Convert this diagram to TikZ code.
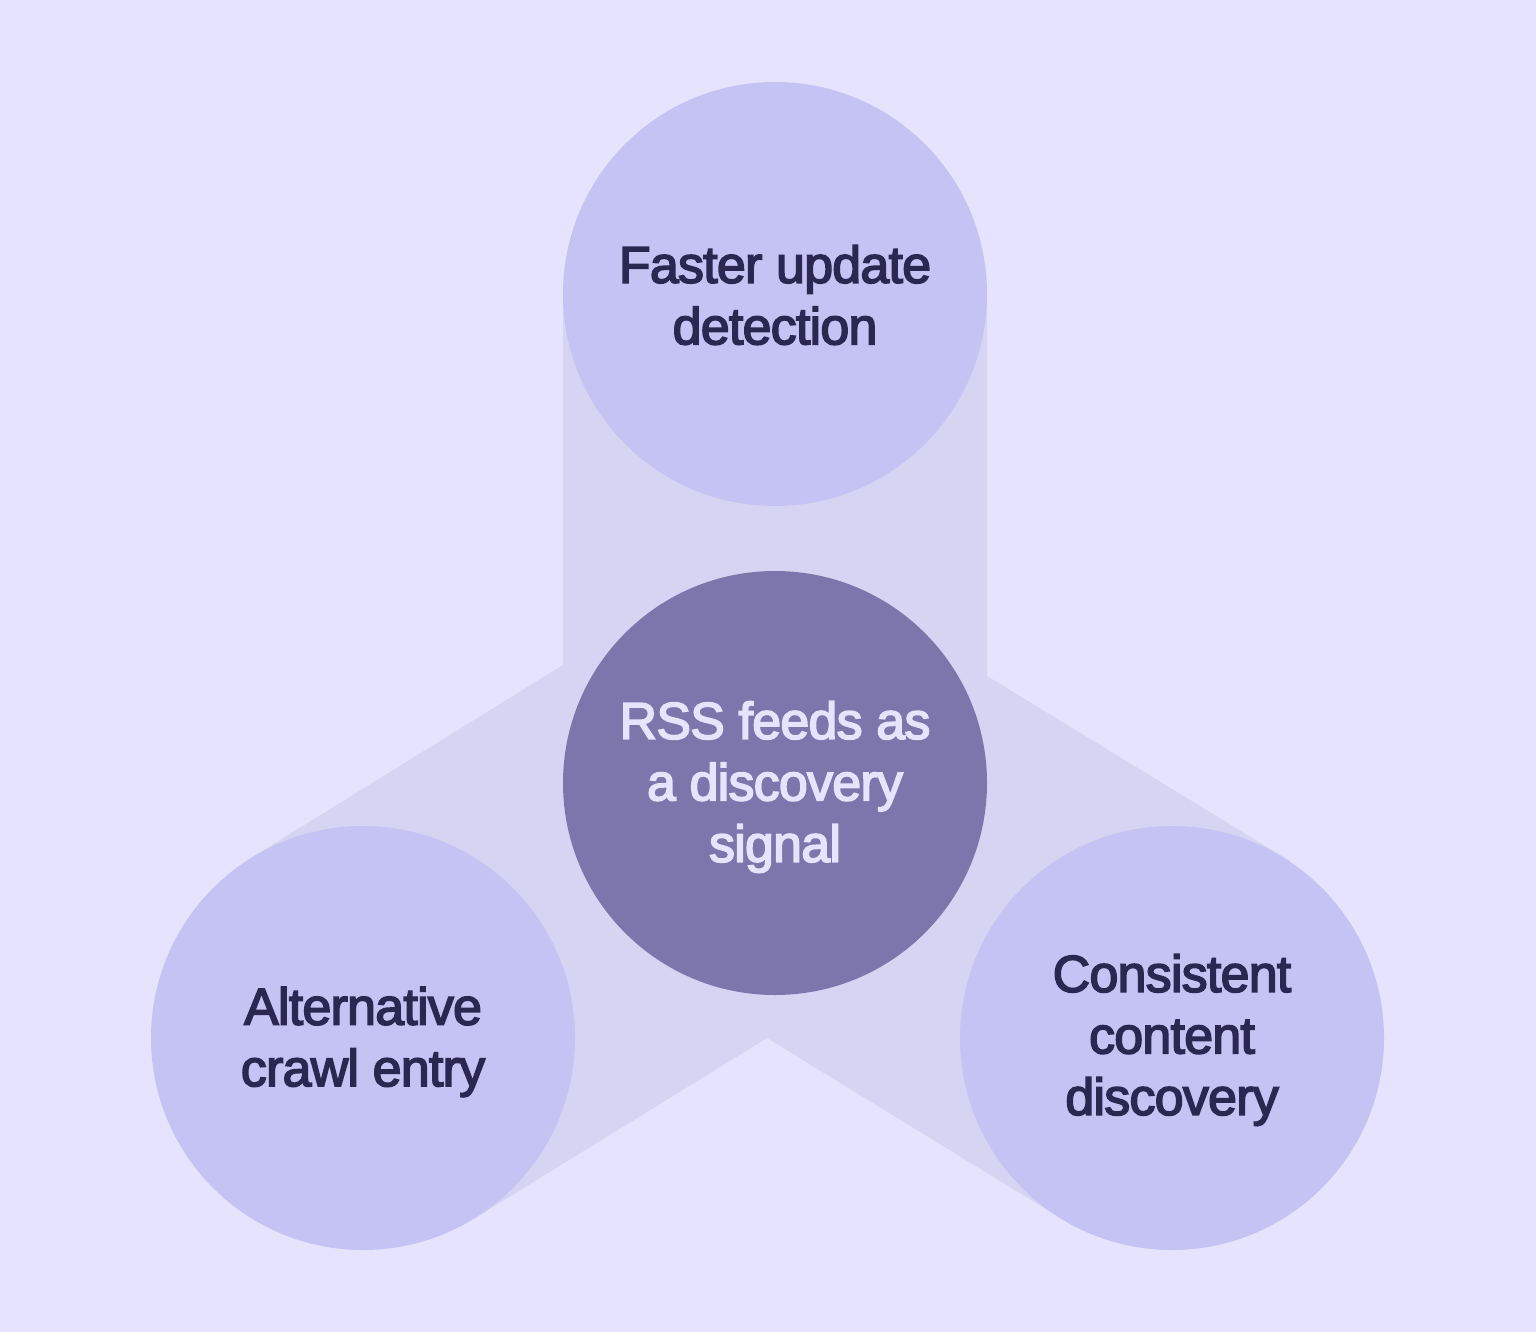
\documentclass[tikz,border=0pt]{standalone}
\usepackage{fontspec}
\setmainfont{Liberation Sans}[LetterSpace=-1.5, FakeBold=3]
\definecolor{bgc}{HTML}{E5E3FE}
\definecolor{bandc}{HTML}{D6D4F3}
\definecolor{circc}{HTML}{C5C2F4}
\definecolor{hubc}{HTML}{7B76AB}
\definecolor{darktxt}{HTML}{2A2850}
\tikzset{
  bubble/.style={circle, fill=circc, minimum size=424pt, inner sep=0pt},
  hubbubble/.style={bubble, fill=hubc},
  band/.style={fill=bandc, draw=none},
  lbl/.style={align=center, font=\fontsize{52}{61.5}\selectfont, inner sep=0pt}
}
\begin{document}
\begin{tikzpicture}[x=1pt,y=-1pt]
\fill[bgc] (0,0) rectangle (1536,1332);
\useasboundingbox (0,0) rectangle (1536,1332);
% connecting bands (one shape)
\fill[band] (563,294) -- (563,665) -- (251,858) -- (475,1218) -- (767,1038)
  -- (1075,1227) -- (1290,861) -- (987,676) -- (987,294) -- cycle;
% circles
\node[bubble] (top) at (775,294) {};
\node[hubbubble] (hub) at (775,783) {};
\node[bubble] (left) at (363,1038) {};
\node[bubble] (right) at (1172,1038) {};
% labels
\node[lbl, text=darktxt] (toplbl) at ([yshift=-1pt]top.center) {Faster update\\detection};
\node[lbl, text=bgc] (hublbl) at ([yshift=-4pt]hub.center) {RSS feeds as\\a discovery\\signal};
\node[lbl, text=darktxt] (leftlbl) at ([yshift=-4pt]left.center) {Alternative\\crawl entry};
\node[lbl, text=darktxt] (rightlbl) at ([yshift=-2pt]right.center) {Consistent\\content\\discovery};
\end{tikzpicture}
\end{document}
